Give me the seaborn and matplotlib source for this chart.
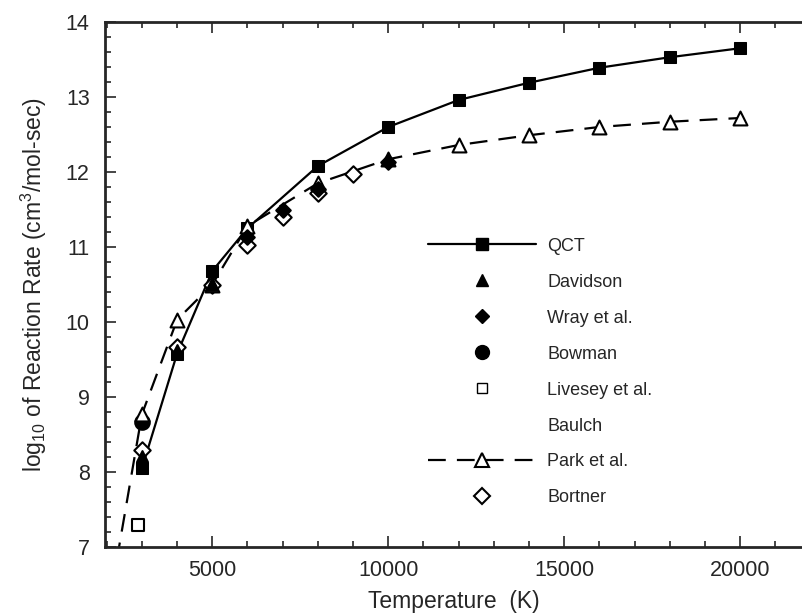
import numpy as np
import pandas as pd
import matplotlib
matplotlib.use("Agg")
import matplotlib.pyplot as plt
from matplotlib.lines import Line2D
from matplotlib.ticker import MultipleLocator
import seaborn as sns

# ---- data ----
qct_T = [3000, 4000, 5000, 6000, 8000, 10000, 12000, 14000, 16000, 18000, 20000]
qct_k = [8.05, 9.58, 10.68, 11.25, 12.08, 12.60, 12.96, 13.19, 13.39, 13.53, 13.65]

davidson_T = [3000, 4000, 5000]
davidson_k = [8.22, 9.63, 10.50]

wray_T = [6000, 7000, 8000, 10000]
wray_k = [11.13, 11.50, 11.78, 12.13]

bowman_T = [3000]
bowman_k = [8.67]

livesey_T = [2900]
livesey_k = [7.30]

park_T = [2000, 3000, 4000, 5000, 6000, 8000, 10000, 12000, 14000, 16000, 18000, 20000]
park_k = [6.05, 8.77, 10.03, 10.50, 11.28, 11.85, 12.17, 12.36, 12.49, 12.60, 12.67, 12.72]

bortner_T = [3000, 4000, 5000, 6000, 7000, 8000, 9000]
bortner_k = [8.29, 9.67, 10.49, 11.03, 11.40, 11.72, 11.97]

legend_labels = ["QCT", "Davidson", "Wray et al.", "Bowman", "Livesey et al.",
                 "Baulch", "Park et al.", "Bortner"]

sns.set_style("ticks")
plt.rcParams["font.family"] = ["Liberation Sans", "DejaVu Sans"]
plt.rcParams["mathtext.fontset"] = "custom"
plt.rcParams["mathtext.rm"] = "Liberation Sans"
plt.rcParams["mathtext.it"] = "Liberation Sans:italic"

fig = plt.figure(figsize=(8.02, 6.16), dpi=100)
ax = fig.add_axes([105 / 802, 69 / 616, 697 / 802, 525 / 616])

dash = (8, 5)
# QCT line
sns.lineplot(x=qct_T, y=qct_k, ax=ax, color="black", lw=1.6, marker="s",
             markersize=8, markeredgecolor="black", markerfacecolor="black",
             sort=False, zorder=3)
# Park line
sns.lineplot(x=park_T, y=park_k, ax=ax, color="black", lw=1.6, sort=False,
             zorder=2)
ax.lines[-1].set_dashes(dash)

# Markers
def pts(T, k, marker, face, size, z):
    sns.scatterplot(x=T, y=k, ax=ax, marker=marker, s=size,
                    facecolor=face, edgecolor="black", linewidth=1.5,
                    zorder=z)

pts(bowman_T, bowman_k, "o", "black", 110, 4)
pts(livesey_T, livesey_k, "s", "white", 70, 4)
pts(bortner_T, bortner_k, "D", "white", 70, 5)
pts(park_T[1:], park_k[1:], "^", "white", 100, 5)
pts(wray_T, wray_k, "D", "black", 55, 6)
pts(davidson_T, davidson_k, "^", "black", 60, 6)

ax.set_xlim(1950, 21760)
ax.set_ylim(7, 14)
ax.xaxis.set_major_locator(MultipleLocator(5000))
ax.xaxis.set_minor_locator(MultipleLocator(1000))
ax.yaxis.set_major_locator(MultipleLocator(1))
ax.yaxis.set_minor_locator(MultipleLocator(0.2))
ax.tick_params(which="both", direction="in", top=True, right=False,
               labelsize=15.5, width=1.2)
ax.tick_params(which="major", length=8)
ax.tick_params(which="minor", length=4)
ax.tick_params(axis="x", which="major", pad=9)
ax.tick_params(axis="y", which="major", pad=11)
for side in ["left", "bottom", "top"]:
    ax.spines[side].set_linewidth(2)
ax.spines["right"].set_visible(False)

ax.set_xlabel("Temperature  (K)", fontsize=16.5, labelpad=7)
ax.set_ylabel("log$_{10}$ of Reaction Rate (cm$^3$/mol-sec)", fontsize=16.5,
              labelpad=12)

handles = [
    Line2D([], [], color="black", lw=1.6, marker="s", markersize=8,
           markerfacecolor="black"),
    Line2D([], [], ls="none", marker="^", markersize=8, color="black"),
    Line2D([], [], ls="none", marker="D", markersize=7, color="black"),
    Line2D([], [], ls="none", marker="o", markersize=10, color="black"),
    Line2D([], [], ls="none", marker="s", markersize=7, markerfacecolor="white",
           markeredgecolor="black", markeredgewidth=1.0),
    Line2D([], [], ls="none"),
    Line2D([], [], color="black", lw=1.6, dashes=dash, marker="^",
           markersize=10, markerfacecolor="white", markeredgecolor="black",
           markeredgewidth=1.5),
    Line2D([], [], ls="none", marker="D", markersize=8, markerfacecolor="white",
           markeredgecolor="black", markeredgewidth=1.5),
]
leg = ax.legend(handles, legend_labels, loc="upper left",
                bbox_to_anchor=(0.44, 0.62), frameon=False, fontsize=13,
                handlelength=6.0, labelspacing=1.05, handletextpad=0.6)

fig.savefig("out.png", dpi=100)
